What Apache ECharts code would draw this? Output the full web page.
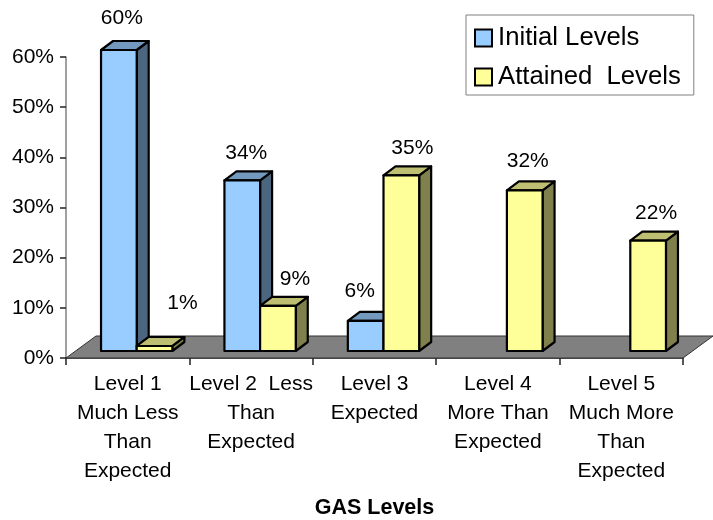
<!DOCTYPE html>
<html>
<head>
<meta charset="utf-8">
<style>html,body{margin:0;padding:0;background:#fff}#chart{width:713px;height:520px}</style>
<script src="https://cdn.jsdelivr.net/npm/echarts@6/dist/echarts.min.js"></script>
</head>
<body>
<div id="chart"></div>
<script>
var categories = ['Level 1\nMuch Less\nThan\nExpected', 'Level 2  Less\nThan\nExpected', 'Level 3\nExpected', 'Level 4\nMore Than\nExpected', 'Level 5\nMuch More\nThan\nExpected'];
var initialLevels = [60, 34, 6, null, null];
var attainedLevels = [1, 9, 35, 32, 22];
var yTicks = [0, 10, 20, 30, 40, 50, 60];

// the 3d look: bars stand part way back on the floor
var font = '"Liberation Sans", Arial, sans-serif';
var floorDepth = [30, -22];
var barShift = [9, -7];
var barDepth = [12, -9];
var barRatio = 0.289;
// data labels sit where they were dragged in the original, not centred on the bar
var labelShift = {
    'Initial Levels': [[3, -32], [4, -27], [-6, -30]],
    'Attained  Levels': [[28, -43], [17, -27], [11, -27], [3, -29], [8, -27]]
};

function barItem(name, side, face, sideFace, topFace) {
    return function (params, api) {
        var idx = api.value(0);
        var val = api.value(1);
        var top = api.coord([idx, val]);
        var base = api.coord([idx, 0]);
        var w = api.size([1, 0])[0] * barRatio;
        var x0 = top[0] + barShift[0] + side * w;
        var x1 = x0 + w;
        var yTop = top[1] + barShift[1];
        var yBase = base[1] + barShift[1];
        var dx = barDepth[0];
        var dy = barDepth[1];
        var line = { stroke: '#000', lineWidth: 2.2, lineJoin: 'round' };
        var shift = labelShift[name][idx];
        function poly(pts, fill) {
            return { type: 'polygon', shape: { points: pts }, style: Object.assign({ fill: fill }, line) };
        }
        return {
            type: 'group',
            children: [
                poly([[x1, yBase], [x1 + dx, yBase + dy], [x1 + dx, yTop + dy], [x1, yTop]], sideFace),
                poly([[x0, yTop], [x0 + dx, yTop + dy], [x1 + dx, yTop + dy], [x1, yTop]], topFace),
                poly([[x0, yBase], [x1, yBase], [x1, yTop], [x0, yTop]], face),
                {
                    type: 'text',
                    style: {
                        text: val + '%',
                        x: x0 + w / 2 + shift[0],
                        y: yTop + shift[1],
                        align: 'center',
                        verticalAlign: 'middle',
                        fill: '#000',
                        font: '21px ' + font
                    }
                }
            ]
        };
    };
}

function pairs(values) {
    var out = [];
    values.forEach(function (v, i) {
        if (v !== null) out.push([i, v]);
    });
    return out;
}

var chart = echarts.init(document.getElementById('chart'));
chart.setOption({
    animation: false,
    backgroundColor: '#fff',
    textStyle: { fontFamily: font, color: '#000' },
    grid: { left: 66, right: 30, top: 57, bottom: 162, outerBoundsMode: 'none' },
    legend: {
        left: 466,
        top: 15,
        orient: 'vertical',
        data: ['Initial Levels', 'Attained  Levels'],
        icon: 'rect',
        itemWidth: 17,
        itemHeight: 17,
        itemGap: 13,
        padding: [10, 13, 5, 8],
        borderColor: '#808080',
        borderWidth: 1,
        selectedMode: false,
        itemStyle: { borderColor: '#000', borderWidth: 2 },
        textStyle: { fontSize: 25.7, color: '#000', fontFamily: font, padding: [0, 0, 0, 1] }
    },
    xAxis: {
        type: 'category',
        data: categories,
        name: 'GAS Levels',
        nameLocation: 'middle',
        nameGap: 139,
        nameTextStyle: { fontSize: 21.5, fontWeight: 'bold', color: '#000', fontFamily: font },
        axisLine: { lineStyle: { color: '#222', width: 1.5 } },
        axisTick: { show: true, length: 7, alignWithLabel: false, lineStyle: { color: '#222', width: 1.5 } },
        axisLabel: { interval: 0, color: '#000', fontSize: 21, lineHeight: 29, margin: 12, hideOverlap: false }
    },
    yAxis: {
        type: 'value',
        min: yTicks[0],
        max: yTicks[yTicks.length - 1],
        interval: 10,
        splitLine: { show: false },
        axisLine: { show: true, lineStyle: { color: '#808080', width: 1.5 } },
        axisTick: { show: true, length: 6, lineStyle: { color: '#222', width: 1.5 } },
        axisLabel: { color: '#000', fontSize: 21, margin: 12, padding: [2, 0, 0, 0], formatter: '{value}%' }
    },
    series: [
        {
            name: 'floor',
            type: 'custom',
            silent: true,
            z: 1,
            data: [[0, 0]],
            renderItem: function (params) {
                var g = params.coordSys;
                var yb = g.y + g.height;
                return {
                    type: 'polygon',
                    shape: {
                        points: [[g.x, yb], [g.x + g.width, yb],
                            [g.x + g.width + floorDepth[0], yb + floorDepth[1]],
                            [g.x + floorDepth[0], yb + floorDepth[1]]]
                    },
                    style: { fill: '#808080', stroke: '#333', lineWidth: 1 }
                };
            }
        },
        {
            name: 'Initial Levels',
            type: 'custom',
            z: 2,
            itemStyle: { color: '#99CCFF' },
            encode: { x: 0, y: 1 },
            data: pairs(initialLevels),
            renderItem: barItem('Initial Levels', -1, '#99CCFF', '#4D6680', '#7399BF')
        },
        {
            name: 'Attained  Levels',
            type: 'custom',
            z: 3,
            itemStyle: { color: '#FFFF99' },
            encode: { x: 0, y: 1 },
            data: pairs(attainedLevels),
            renderItem: barItem('Attained  Levels', 0, '#FFFF99', '#80804D', '#BFBF73')
        }
    ]
});
</script>
</body>
</html>
